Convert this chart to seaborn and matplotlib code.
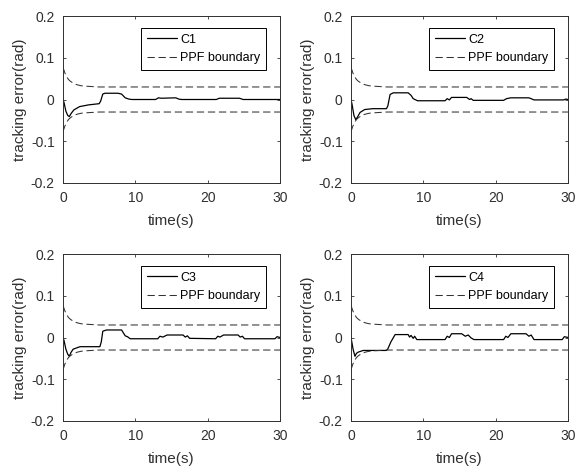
import matplotlib
matplotlib.use("Agg")
import matplotlib.pyplot as plt
import seaborn as sns

# PPF boundary
ppf_t = [0, 0.25, 0.5, 0.75, 1, 1.5, 2, 2.5, 3, 4, 5, 30]
ppf_upper = [0.077, 0.064, 0.055, 0.048, 0.044, 0.038, 0.035, 0.033, 0.032, 0.031, 0.030, 0.030]
ppf_lower = [-0.077, -0.064, -0.055, -0.048, -0.044, -0.038, -0.035, -0.033, -0.032, -0.031, -0.030, -0.030]

# tracking errors of the four agents
c1_t = [0, 0.15, 0.4, 0.65, 0.87, 1.1, 1.5, 2.3, 3.5, 5.0, 5.2, 5.5, 5.8, 7.6, 8.1, 8.6, 9.1, 9.5,
        12.8, 13.2, 13.6, 15.6, 16.0, 16.4, 21.2, 21.6, 24.4, 24.9, 30]
c1_e = [0, -0.008, -0.028, -0.038, -0.041, -0.034, -0.025, -0.017, -0.013, -0.010, -0.004, 0.013, 0.015,
        0.015, 0.013, 0.004, 0.001, 0.0, 0.0, 0.004, 0.003, 0.004, 0.001, 0.0, 0.0, 0.003, 0.003, 0.0, 0.0]

c2_t = [0, 0.15, 0.4, 0.65, 0.9, 1.25, 1.9, 3.0, 4.9, 5.1, 5.4, 5.85, 7.9, 8.3, 8.6, 9.2,
        13.0, 13.3, 13.6, 13.9, 16.0, 16.4, 16.6, 16.9, 21.1, 21.5, 22.1, 24.6, 24.9, 25.3,
        29.4, 29.7, 30]
c2_e = [0, -0.012, -0.038, -0.048, -0.042, -0.031, -0.024, -0.022, -0.022, -0.015, 0.012, 0.016, 0.016,
        0.010, 0.002, -0.003, -0.003, 0.002, -0.001, 0.005, 0.005, 0.000, 0.002, -0.002, -0.002, 0.002,
        0.004, 0.004, 0.002, -0.001, -0.001, 0.001, 0.000]

c3_t = [0, 0.15, 0.4, 0.65, 0.87, 1.1, 1.4, 2.35, 5.1, 5.3, 5.5, 6.0, 8.1, 8.6, 8.9, 9.3,
        13.1, 13.4, 13.8, 14.4, 16.6, 16.9, 17.2, 17.5, 21.1, 21.4, 21.7, 22.2, 24.2, 24.5, 24.8, 25.1,
        29.3, 29.6, 30]
c3_e = [0, -0.008, -0.028, -0.040, -0.045, -0.036, -0.028, -0.022, -0.022, -0.010, 0.015, 0.018, 0.018,
        0.004, 0.002, -0.003, -0.003, 0.003, 0.001, 0.006, 0.006, 0.001, 0.004, -0.002, -0.003, 0.003,
        0.001, 0.006, 0.006, 0.001, 0.003, -0.003, -0.003, 0.002, 0.0]

c4_t = [0, 0.3, 0.55, 0.75, 1.0, 1.7, 4.9, 5.1, 5.5, 5.7, 6.1, 7.9, 8.1, 8.3, 8.6, 8.8, 9.1,
        13.0, 13.3, 13.6, 13.9, 15.3, 15.8, 16.2, 16.6, 17.0, 21.1, 21.4, 21.7, 22.1, 24.2, 24.6, 24.9, 25.3,
        29.2, 29.5, 30]
c4_e = [0, -0.029, -0.045, -0.038, -0.035, -0.031, -0.031, -0.027, -0.011, -0.005, 0.007, 0.007, 0.001,
        0.005, -0.002, 0.003, -0.005, -0.005, 0.003, 0.000, 0.009, 0.009, 0.003, 0.006, -0.001, -0.005,
        -0.005, 0.003, 0.000, 0.009, 0.009, 0.003, 0.006, -0.005, -0.005, 0.002, 0.0]

agents = ["C1", "C2", "C3", "C4"]
series = [(c1_t, c1_e), (c2_t, c2_e), (c3_t, c3_e), (c4_t, c4_e)]

y_ticks = [-0.2, -0.1, 0, 0.1, 0.2]
y_ticklabels = ["-0.2", "-0.1", "0", "0.1", "0.2"]
x_ticks = [0, 10, 20, 30]

sns.set_style("ticks")
plt.rcParams["font.family"] = ["Liberation Sans", "DejaVu Sans"]

fig = plt.figure(figsize=(5.79, 4.68), dpi=100)
W, H = 579, 468
boxes = [(63, 16), (351, 16), (63, 254), (351, 254)]
aw, ah = 217, 167

txt = "#303030"
for (px, py), name, (t, e) in zip(boxes, agents, series):
    ax = fig.add_axes([px / W, 1 - (py + ah) / H, aw / W, ah / H])
    sns.lineplot(x=t, y=e, ax=ax, color="k", lw=0.9, label=name)
    sns.lineplot(x=ppf_t, y=ppf_upper, ax=ax, color="#333333", lw=0.75,
                 linestyle=(0, (7, 3.6)), label="PPF boundary")
    sns.lineplot(x=ppf_t, y=ppf_lower, ax=ax, color="#333333", lw=0.75,
                 linestyle=(0, (7, 3.6)))
    ax.set_xlim(0, 30)
    ax.set_ylim(-0.2, 0.2)
    ax.set_xticks(x_ticks)
    ax.set_yticks(y_ticks)
    ax.set_yticklabels(y_ticklabels)
    ax.tick_params(direction="in", length=2.5, width=0.6, top=True, right=True,
                   labelsize=10, labelcolor=txt, color=txt, pad=6)
    for sp in ax.spines.values():
        sp.set_color(txt)
        sp.set_linewidth(0.7)
    ax.set_xlabel("time(s)", fontsize=11, color=txt)
    ax.set_ylabel("tracking error(rad)", fontsize=11, color=txt)
    ax.xaxis.set_label_coords(0.5, -0.185)
    ax.yaxis.set_label_coords(-0.165, 0.5)
    leg = ax.legend(loc="upper right", bbox_to_anchor=(0.935, 0.928), borderaxespad=0,
                    fontsize=9, fancybox=False, framealpha=1, edgecolor="k",
                    handlelength=2.4, handletextpad=0.25, labelspacing=0.5,
                    borderpad=0.45)
    leg.get_frame().set_linewidth(0.7)
    for tx in leg.get_texts():
        tx.set_color("k")

fig.savefig("out.png", dpi=100)
